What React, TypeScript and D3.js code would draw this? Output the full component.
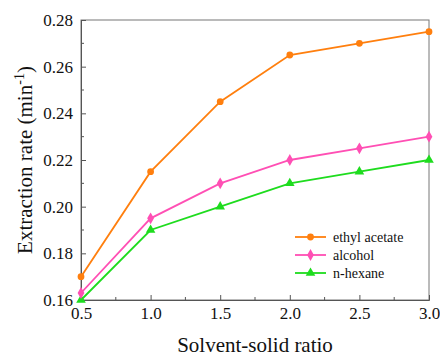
import React, { useEffect, useRef } from "react";
import * as d3 from "d3";

const ratios = [0.5, 1.0, 1.5, 2.0, 2.5, 3.0];
const ethylAcetate = [0.17, 0.215, 0.245, 0.265, 0.27, 0.275];
const alcohol = [0.163, 0.195, 0.21, 0.22, 0.225, 0.23];
const nHexane = [0.16, 0.19, 0.2, 0.21, 0.215, 0.22];
const seriesNames = ["ethyl acetate", "alcohol", "n-hexane"];
const xTicks = [0.5, 1.0, 1.5, 2.0, 2.5, 3.0];
const yTicks = [0.16, 0.18, 0.2, 0.22, 0.24, 0.26, 0.28];

const W = 440;
const H = 358;
const M = { left: 81, right: 11, top: 20, bottom: 58 };
const FONT = "Liberation Serif, Times New Roman, serif";

export default function App() {
  const ref = useRef<SVGSVGElement>(null);

  useEffect(() => {
    const svg = d3.select(ref.current);
    svg.selectAll("*").remove();

    const x = d3.scaleLinear().domain([0.5, 3.0]).range([M.left, W - M.right]);
    const y = d3.scaleLinear().domain([0.16, 0.28]).range([H - M.bottom, M.top]);
    const axisColor = "#555";

    // frame
    svg.append("rect")
      .attr("x", x(0.5)).attr("y", y(0.28))
      .attr("width", x(3.0) - x(0.5)).attr("height", y(0.16) - y(0.28))
      .attr("fill", "none").attr("stroke", "#777").attr("stroke-width", 1);

    // bottom axis, ticks inward
    const xAxis = svg.append("g").attr("transform", `translate(0,${y(0.16)})`);
    xAxis.call(
      d3.axisBottom(x).tickValues(xTicks).tickSize(-5).tickPadding(7).tickFormat(d3.format(".1f"))
    );
    xAxis.attr("font-family", null).attr("font-size", null);
    xAxis.select(".domain").attr("stroke", axisColor);
    xAxis.selectAll(".tick line").attr("stroke", axisColor);
    xAxis.selectAll("text").style("font-family", FONT).style("font-size", "17px").attr("fill", "#111");
    const xMinor = d3.range(0.75, 3.0, 0.5);
    xAxis.selectAll(".minor").data(xMinor).enter().append("line")
      .attr("x1", (d) => x(d)).attr("x2", (d) => x(d)).attr("y1", 0).attr("y2", -3)
      .attr("stroke", axisColor);

    // left axis, ticks inward
    const yAxis = svg.append("g").attr("transform", `translate(${x(0.5)},0)`);
    yAxis.call(
      d3.axisLeft(y).tickValues(yTicks).tickSize(-5).tickPadding(8).tickFormat(d3.format(".2f"))
    );
    yAxis.attr("font-family", null).attr("font-size", null);
    yAxis.select(".domain").attr("stroke", axisColor);
    yAxis.selectAll(".tick line").attr("stroke", axisColor);
    yAxis.selectAll("text").style("font-family", FONT).style("font-size", "17px").attr("fill", "#111");
    const yMinor = d3.range(0.17, 0.28, 0.02);
    yAxis.selectAll(".minor").data(yMinor).enter().append("line")
      .attr("x1", 0).attr("x2", 3).attr("y1", (d) => y(d)).attr("y2", (d) => y(d))
      .attr("stroke", axisColor);

    // axis titles
    svg.append("text")
      .attr("x", (x(0.5) + x(3.0)) / 2).attr("y", 352)
      .attr("text-anchor", "middle").style("font-family", FONT).style("font-size", "21px").attr("fill", "#111")
      .text("Solvent-solid ratio");
    const yl = svg.append("text")
      .attr("transform", `translate(32,${(y(0.16) + y(0.28)) / 2}) rotate(-90)`)
      .attr("text-anchor", "middle").style("font-family", FONT).style("font-size", "21px").attr("fill", "#111");
    yl.append("tspan").text("Extraction rate (min");
    yl.append("tspan").attr("dy", -8).style("font-size", "14px").text("-1");
    yl.append("tspan").attr("dy", 8).text(")");

    const series = [
      { name: seriesNames[0], values: ethylAcetate, color: "#ff7f0e", shape: d3.symbolCircle, size: 36 },
      { name: seriesNames[1], values: alcohol, color: "#ff4fb4", shape: d3.symbolDiamond, size: 40 },
      { name: seriesNames[2], values: nHexane, color: "#1edc1e", shape: d3.symbolTriangle, size: 40 },
    ];

    const line = d3.line<number>().x((_, i) => x(ratios[i])).y((d) => y(d));

    series.slice().reverse().forEach((s) => {
      svg.append("path").datum(s.values).attr("d", line)
        .attr("fill", "none").attr("stroke", s.color).attr("stroke-width", 1.8);
      svg.selectAll(null).data(s.values).enter().append("path")
        .attr("d", d3.symbol().type(s.shape).size(s.size)())
        .attr("transform", (d, i) => `translate(${x(ratios[i])},${y(d)})`)
        .attr("fill", s.color);
    });

    // legend
    const lg = svg.append("g").attr("transform", "translate(295,237)");
    series.forEach((s, i) => {
      const g = lg.append("g").attr("transform", `translate(0,${i * 18})`);
      g.append("line").attr("x1", 0).attr("x2", 31).attr("y1", 0).attr("y2", 0)
        .attr("stroke", s.color).attr("stroke-width", 1.8);
      g.append("path").attr("d", d3.symbol().type(s.shape).size(s.size)())
        .attr("transform", "translate(15.5,0)").attr("fill", s.color);
      g.append("text").attr("x", 38).attr("y", 5)
        .style("font-family", FONT).style("font-size", "14px").attr("fill", "#111").text(s.name);
    });
  }, []);

  return <svg ref={ref} width={W} height={H} style={{ display: "block", position: "absolute", left: 0, top: 0, background: "#fff", fontFamily: FONT }} />;
}
